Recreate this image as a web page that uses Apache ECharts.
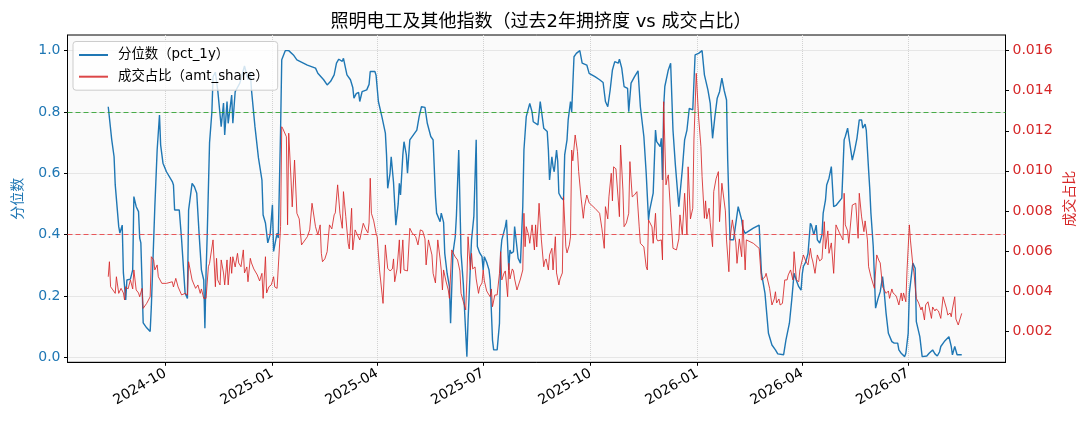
<!DOCTYPE html>
<html>
<head>
<meta charset="utf-8">
<title>照明电工及其他指数</title>
<script src="https://cdn.jsdelivr.net/npm/echarts@6/dist/echarts.min.js"></script>
<style>
    html, body { margin: 0; padding: 0; background: #ffffff; }
    #main { width: 1089px; height: 429px; }
</style>
</head>
<body>
<div id="main"></div>
<script>
// 分位数 (pct_1y)
var pctDates = [
    '2024-08-13', '2024-08-16', '2024-08-18', '2024-08-19', '2024-08-20', '2024-08-22', '2024-08-23', '2024-08-25', '2024-08-26', '2024-08-28', '2024-08-29',
    '2024-09-01', '2024-09-03', '2024-09-04', '2024-09-06', '2024-09-08', '2024-09-09', '2024-09-10', '2024-09-12', '2024-09-15', '2024-09-18', '2024-09-19', '2024-09-22', '2024-09-24', '2024-09-26', '2024-09-27', '2024-09-29',
    '2024-10-02', '2024-10-07', '2024-10-08', '2024-10-09', '2024-10-10', '2024-10-13', '2024-10-15', '2024-10-18', '2024-10-20', '2024-10-21', '2024-10-24', '2024-10-26', '2024-10-28', '2024-10-30',
    '2024-11-01', '2024-11-03', '2024-11-04', '2024-11-05', '2024-11-06', '2024-11-08', '2024-11-10', '2024-11-11', '2024-11-13', '2024-11-15', '2024-11-18', '2024-11-20', '2024-11-21', '2024-11-23', '2024-11-24', '2024-11-27', '2024-11-28', '2024-11-30',
    '2024-12-04', '2024-12-08', '2024-12-11', '2024-12-13', '2024-12-14', '2024-12-17', '2024-12-20', '2024-12-23', '2024-12-24', '2024-12-26', '2024-12-28', '2024-12-30',
    '2025-01-01', '2025-01-02', '2025-01-05', '2025-01-06', '2025-01-08', '2025-01-09', '2025-01-12', '2025-01-15', '2025-01-19', '2025-01-22', '2025-01-31',
    '2025-02-07', '2025-02-09', '2025-02-14', '2025-02-17', '2025-02-20', '2025-02-23', '2025-02-25', '2025-02-27',
    '2025-03-02', '2025-03-03', '2025-03-06', '2025-03-09', '2025-03-11', '2025-03-12', '2025-03-14', '2025-03-16', '2025-03-17', '2025-03-19', '2025-03-23', '2025-03-25', '2025-03-26', '2025-03-30', '2025-03-31',
    '2025-04-02', '2025-04-05', '2025-04-08', '2025-04-09', '2025-04-10', '2025-04-12', '2025-04-13', '2025-04-15', '2025-04-17', '2025-04-19', '2025-04-20', '2025-04-21', '2025-04-23', '2025-04-24', '2025-04-26', '2025-04-27', '2025-04-29',
    '2025-05-05', '2025-05-07', '2025-05-09', '2025-05-12', '2025-05-14', '2025-05-17', '2025-05-19', '2025-05-21', '2025-05-22', '2025-05-23', '2025-05-25', '2025-05-26', '2025-05-27', '2025-05-28', '2025-05-29', '2025-05-31',
    '2025-06-02', '2025-06-03', '2025-06-05', '2025-06-07', '2025-06-08', '2025-06-10', '2025-06-12', '2025-06-14', '2025-06-15', '2025-06-17', '2025-06-18', '2025-06-20', '2025-06-21', '2025-06-23', '2025-06-25', '2025-06-26', '2025-06-28', '2025-06-30',
    '2025-07-01', '2025-07-02', '2025-07-04', '2025-07-06', '2025-07-07', '2025-07-09', '2025-07-10', '2025-07-13', '2025-07-14', '2025-07-15', '2025-07-16', '2025-07-17', '2025-07-20', '2025-07-21', '2025-07-23', '2025-07-24', '2025-07-25', '2025-07-27', '2025-07-28', '2025-07-29', '2025-07-31',
    '2025-08-02', '2025-08-04', '2025-08-05', '2025-08-07', '2025-08-10', '2025-08-12', '2025-08-13', '2025-08-17', '2025-08-19', '2025-08-20', '2025-08-22', '2025-08-25', '2025-08-26', '2025-08-27', '2025-08-29', '2025-08-30', '2025-08-31',
    '2025-09-02', '2025-09-03', '2025-09-04', '2025-09-06', '2025-09-08', '2025-09-09', '2025-09-11', '2025-09-12', '2025-09-14', '2025-09-15', '2025-09-17', '2025-09-19', '2025-09-22', '2025-09-24', '2025-09-28', '2025-09-30',
    '2025-10-05', '2025-10-09', '2025-10-12', '2025-10-14', '2025-10-16', '2025-10-18', '2025-10-20', '2025-10-22', '2025-10-25', '2025-10-26', '2025-10-28', '2025-10-30',
    '2025-11-02', '2025-11-03', '2025-11-05', '2025-11-08', '2025-11-11', '2025-11-13', '2025-11-16', '2025-11-18', '2025-11-20', '2025-11-21', '2025-11-24', '2025-11-26', '2025-11-27', '2025-11-30',
    '2025-12-01', '2025-12-02', '2025-12-03', '2025-12-04', '2025-12-07', '2025-12-09', '2025-12-11', '2025-12-13', '2025-12-16', '2025-12-19', '2025-12-21', '2025-12-23', '2025-12-25', '2025-12-28', '2025-12-30',
    '2026-01-02', '2026-01-05', '2026-01-07', '2026-01-10', '2026-01-12', '2026-01-14', '2026-01-16', '2026-01-18', '2026-01-19', '2026-01-20', '2026-01-22', '2026-01-24', '2026-01-26', '2026-01-27', '2026-01-29',
    '2026-02-01', '2026-02-05', '2026-02-08', '2026-02-09', '2026-02-11', '2026-02-18', '2026-02-23', '2026-02-25', '2026-02-28',
    '2026-03-01', '2026-03-03', '2026-03-06', '2026-03-09', '2026-03-11', '2026-03-16', '2026-03-18', '2026-03-21', '2026-03-23', '2026-03-25', '2026-03-27', '2026-03-29', '2026-03-31',
    '2026-04-01', '2026-04-02', '2026-04-04', '2026-04-06', '2026-04-08', '2026-04-09', '2026-04-11', '2026-04-12', '2026-04-13', '2026-04-14', '2026-04-16', '2026-04-18', '2026-04-19', '2026-04-21', '2026-04-22', '2026-04-24', '2026-04-26', '2026-04-28', '2026-04-30',
    '2026-05-05', '2026-05-07', '2026-05-08', '2026-05-10', '2026-05-11', '2026-05-14', '2026-05-16', '2026-05-18', '2026-05-20', '2026-05-22', '2026-05-23', '2026-05-25', '2026-05-26', '2026-05-28', '2026-05-29', '2026-05-30',
    '2026-06-01', '2026-06-03', '2026-06-05', '2026-06-07', '2026-06-09', '2026-06-10', '2026-06-12', '2026-06-14', '2026-06-17', '2026-06-19', '2026-06-22', '2026-06-23', '2026-06-25', '2026-06-28', '2026-06-29',
    '2026-07-01', '2026-07-02', '2026-07-04', '2026-07-05', '2026-07-07', '2026-07-08', '2026-07-11', '2026-07-13', '2026-07-17', '2026-07-19', '2026-07-22', '2026-07-24', '2026-07-26', '2026-07-28', '2026-07-29',
    '2026-08-01', '2026-08-05', '2026-08-07', '2026-08-08', '2026-08-10', '2026-08-12', '2026-08-14', '2026-08-16'
];
var pctValues = [
    0.817, 0.709, 0.654, 0.562, 0.556, 0.426, 0.405, 0.431, 0.275, 0.187, 0.252,
    0.255, 0.285, 0.524, 0.491, 0.475, 0.389, 0.373, 0.112, 0.096, 0.084, 0.165, 0.491, 0.676, 0.790, 0.692, 0.633,
    0.605, 0.573, 0.562, 0.480, 0.486, 0.480, 0.383, 0.209, 0.192, 0.480, 0.567, 0.556, 0.535, 0.404,
    0.285, 0.252, 0.095, 0.275, 0.400, 0.700, 0.800, 0.915, 0.930, 0.872, 0.752, 0.829, 0.725, 0.834, 0.763, 0.855, 0.763, 0.866,
    0.894, 0.950, 0.905, 0.930, 0.872, 0.752, 0.650, 0.578, 0.464, 0.438, 0.373, 0.400,
    0.497, 0.345, 0.405, 0.389, 0.741, 0.970, 1.000, 1.000, 0.986, 0.970, 0.953,
    0.943, 0.926, 0.905, 0.888, 0.900, 0.921, 0.959, 0.972,
    0.965, 0.975, 0.921, 0.905, 0.880, 0.845, 0.860, 0.864, 0.834, 0.866, 0.872, 0.890, 0.932, 0.932, 0.920,
    0.834, 0.785, 0.731, 0.660, 0.551, 0.600, 0.654, 0.570, 0.431, 0.500, 0.567, 0.529, 0.660, 0.703, 0.660, 0.600, 0.709,
    0.741, 0.785, 0.817, 0.815, 0.763, 0.720, 0.709, 0.524, 0.470, 0.475, 0.442, 0.470, 0.475, 0.440, 0.339, 0.274,
    0.230, 0.111, 0.339, 0.393, 0.460, 0.676, 0.339, 0.236, 0.154, 0.002, 0.120, 0.296, 0.383, 0.460, 0.709, 0.361, 0.340, 0.328,
    0.285, 0.328, 0.310, 0.285, 0.252, 0.056, 0.024, 0.024, 0.030, 0.111, 0.339, 0.383, 0.426, 0.448, 0.285, 0.350, 0.339, 0.344, 0.426, 0.393, 0.323,
    0.307, 0.491, 0.676, 0.785, 0.828, 0.800, 0.768, 0.758, 0.834, 0.834, 0.747, 0.736, 0.676, 0.578, 0.654, 0.622, 0.605,
    0.676, 0.640, 0.535, 0.520, 0.513, 0.660, 0.709, 0.774, 0.834, 0.800, 0.980, 0.991, 1.000, 0.959, 0.953, 0.926,
    0.915, 0.905, 0.896, 0.834, 0.817, 0.870, 0.937, 0.964, 0.959, 0.972, 0.943, 0.883,
    0.877, 0.801, 0.894, 0.915, 0.934, 0.817, 0.720, 0.600, 0.448, 0.480, 0.535, 0.741, 0.703, 0.687,
    0.714, 0.578, 0.817, 0.883, 0.937, 0.959, 0.741, 0.630, 0.491, 0.611, 0.709, 0.741, 0.812, 0.807, 0.986,
    0.991, 1.000, 0.921, 0.872, 0.828, 0.714, 0.785, 0.845, 0.840, 0.866, 0.910, 0.870, 0.839, 0.643, 0.383,
    0.383, 0.491, 0.448, 0.420, 0.404, 0.421, 0.431, 0.274, 0.209,
    0.165, 0.078, 0.040, 0.024, 0.011, 0.008, 0.056, 0.111, 0.187, 0.274, 0.250, 0.230, 0.219,
    0.270, 0.296, 0.310, 0.339, 0.437, 0.430, 0.399, 0.405, 0.431, 0.383, 0.372, 0.400, 0.470, 0.513, 0.562, 0.584, 0.622, 0.491, 0.495,
    0.519, 0.709, 0.720, 0.747, 0.720, 0.643, 0.675, 0.714, 0.774, 0.774, 0.747, 0.760, 0.741, 0.611, 0.550, 0.470,
    0.361, 0.160, 0.190, 0.214, 0.263, 0.230, 0.144, 0.078, 0.051, 0.046, 0.046, 0.024, 0.013, 0.002, 0.013,
    0.078, 0.209, 0.274, 0.307, 0.290, 0.116, 0.067, 0.002, 0.004, 0.013, 0.024, 0.011, 0.004, 0.018, 0.035,
    0.051, 0.067, 0.035, 0.008, 0.035, 0.008, 0.008, 0.008
];

// 成交占比 (amt_share)
var shareDates = [
    '2024-08-13', '2024-08-14', '2024-08-15', '2024-08-17', '2024-08-19', '2024-08-20', '2024-08-22', '2024-08-24', '2024-08-26', '2024-08-27', '2024-08-28', '2024-08-30',
    '2024-09-01', '2024-09-03', '2024-09-04', '2024-09-06', '2024-09-08', '2024-09-09', '2024-09-11', '2024-09-12', '2024-09-15', '2024-09-18', '2024-09-19', '2024-09-21', '2024-09-22', '2024-09-24', '2024-09-25', '2024-09-28',
    '2024-10-02', '2024-10-07', '2024-10-08', '2024-10-10', '2024-10-12', '2024-10-15', '2024-10-18', '2024-10-20', '2024-10-21', '2024-10-24', '2024-10-27', '2024-10-29', '2024-10-31',
    '2024-11-01', '2024-11-03', '2024-11-05', '2024-11-07', '2024-11-08', '2024-11-11', '2024-11-13', '2024-11-14', '2024-11-15', '2024-11-17', '2024-11-18', '2024-11-20', '2024-11-21', '2024-11-23', '2024-11-24', '2024-11-26', '2024-11-27', '2024-11-28', '2024-11-30',
    '2024-12-02', '2024-12-03', '2024-12-05', '2024-12-07', '2024-12-08', '2024-12-10', '2024-12-11', '2024-12-13', '2024-12-14', '2024-12-16', '2024-12-19', '2024-12-21', '2024-12-23', '2024-12-24', '2024-12-26', '2024-12-27', '2024-12-29', '2024-12-31',
    '2025-01-02', '2025-01-03', '2025-01-05', '2025-01-06', '2025-01-08', '2025-01-09', '2025-01-10', '2025-01-13', '2025-01-14', '2025-01-15', '2025-01-17', '2025-01-18', '2025-01-20', '2025-01-22', '2025-01-24', '2025-01-26', '2025-01-31',
    '2025-02-02', '2025-02-04', '2025-02-07', '2025-02-09', '2025-02-11', '2025-02-12', '2025-02-13', '2025-02-15', '2025-02-17', '2025-02-19', '2025-02-21', '2025-02-23', '2025-02-24', '2025-02-26', '2025-02-27', '2025-02-28',
    '2025-03-02', '2025-03-03', '2025-03-05', '2025-03-07', '2025-03-08', '2025-03-10', '2025-03-11', '2025-03-13', '2025-03-15', '2025-03-17', '2025-03-19', '2025-03-20', '2025-03-22', '2025-03-24', '2025-03-25', '2025-03-26', '2025-03-27', '2025-03-29', '2025-03-31',
    '2025-04-01', '2025-04-03', '2025-04-06', '2025-04-08', '2025-04-10', '2025-04-12', '2025-04-14', '2025-04-15', '2025-04-16', '2025-04-18', '2025-04-20', '2025-04-21', '2025-04-23', '2025-04-24', '2025-04-27', '2025-04-29',
    '2025-05-01', '2025-05-04', '2025-05-06', '2025-05-08', '2025-05-10', '2025-05-12', '2025-05-13', '2025-05-15', '2025-05-18', '2025-05-19', '2025-05-21', '2025-05-23', '2025-05-25', '2025-05-26', '2025-05-27', '2025-05-28', '2025-05-30',
    '2025-06-01', '2025-06-02', '2025-06-04', '2025-06-07', '2025-06-09', '2025-06-11', '2025-06-12', '2025-06-14', '2025-06-16', '2025-06-17', '2025-06-18', '2025-06-20', '2025-06-21', '2025-06-22', '2025-06-24', '2025-06-25', '2025-06-27', '2025-06-28', '2025-06-30',
    '2025-07-01', '2025-07-02', '2025-07-04', '2025-07-05', '2025-07-07', '2025-07-08', '2025-07-09', '2025-07-11', '2025-07-13', '2025-07-15', '2025-07-16', '2025-07-17', '2025-07-19', '2025-07-20', '2025-07-22', '2025-07-23', '2025-07-24', '2025-07-26', '2025-07-27', '2025-07-28', '2025-07-30',
    '2025-08-02', '2025-08-04', '2025-08-05', '2025-08-06', '2025-08-07', '2025-08-09', '2025-08-10', '2025-08-12', '2025-08-14', '2025-08-15', '2025-08-16', '2025-08-18', '2025-08-20', '2025-08-22', '2025-08-23', '2025-08-24', '2025-08-26', '2025-08-27', '2025-08-29', '2025-08-30',
    '2025-09-01', '2025-09-02', '2025-09-04', '2025-09-05', '2025-09-07', '2025-09-08', '2025-09-10', '2025-09-11', '2025-09-13', '2025-09-14', '2025-09-15', '2025-09-16', '2025-09-18', '2025-09-20', '2025-09-21', '2025-09-23', '2025-09-25', '2025-09-26', '2025-09-28', '2025-09-30',
    '2025-10-05', '2025-10-09', '2025-10-11', '2025-10-13', '2025-10-14', '2025-10-16', '2025-10-17', '2025-10-19', '2025-10-20', '2025-10-21', '2025-10-23', '2025-10-25', '2025-10-26', '2025-10-27', '2025-10-29', '2025-10-30',
    '2025-11-01', '2025-11-03', '2025-11-04', '2025-11-06', '2025-11-08', '2025-11-10', '2025-11-12', '2025-11-13', '2025-11-16', '2025-11-18', '2025-11-19', '2025-11-20', '2025-11-23', '2025-11-24', '2025-11-26', '2025-11-27', '2025-11-28',
    '2025-12-01', '2025-12-02', '2025-12-03', '2025-12-05', '2025-12-06', '2025-12-07', '2025-12-09', '2025-12-11', '2025-12-14', '2025-12-16', '2025-12-17', '2025-12-19', '2025-12-21', '2025-12-23', '2025-12-24', '2025-12-26', '2025-12-28', '2025-12-29', '2025-12-31',
    '2026-01-02', '2026-01-04', '2026-01-05', '2026-01-07', '2026-01-08', '2026-01-09', '2026-01-11', '2026-01-12', '2026-01-14', '2026-01-15', '2026-01-17', '2026-01-19', '2026-01-20', '2026-01-22', '2026-01-25', '2026-01-26', '2026-01-28', '2026-01-29', '2026-01-31',
    '2026-02-03', '2026-02-04', '2026-02-06', '2026-02-08', '2026-02-09', '2026-02-11', '2026-02-12', '2026-02-18', '2026-02-23', '2026-02-25', '2026-02-28',
    '2026-03-01', '2026-03-04', '2026-03-06', '2026-03-08', '2026-03-09', '2026-03-10', '2026-03-12', '2026-03-13', '2026-03-15', '2026-03-17', '2026-03-19', '2026-03-20', '2026-03-22', '2026-03-24', '2026-03-25', '2026-03-27', '2026-03-29', '2026-03-30', '2026-03-31',
    '2026-04-02', '2026-04-04', '2026-04-06', '2026-04-08', '2026-04-09', '2026-04-10', '2026-04-12', '2026-04-14', '2026-04-16', '2026-04-18', '2026-04-20', '2026-04-21', '2026-04-23', '2026-04-24', '2026-04-26', '2026-04-28', '2026-04-30',
    '2026-05-03', '2026-05-06', '2026-05-07', '2026-05-08', '2026-05-10', '2026-05-11', '2026-05-12', '2026-05-14', '2026-05-17', '2026-05-19', '2026-05-20', '2026-05-22', '2026-05-24', '2026-05-25', '2026-05-27', '2026-05-28', '2026-05-30',
    '2026-06-02', '2026-06-04', '2026-06-06', '2026-06-07', '2026-06-09', '2026-06-10', '2026-06-12', '2026-06-14', '2026-06-15', '2026-06-17', '2026-06-18', '2026-06-20', '2026-06-21', '2026-06-23', '2026-06-25', '2026-06-26', '2026-06-27', '2026-06-29', '2026-06-30',
    '2026-07-02', '2026-07-03', '2026-07-05', '2026-07-06', '2026-07-08', '2026-07-10', '2026-07-12', '2026-07-13', '2026-07-15', '2026-07-16', '2026-07-18', '2026-07-19', '2026-07-21', '2026-07-22', '2026-07-24', '2026-07-25', '2026-07-27', '2026-07-29', '2026-07-31',
    '2026-08-01', '2026-08-03', '2026-08-04', '2026-08-06', '2026-08-07', '2026-08-08', '2026-08-10', '2026-08-11', '2026-08-13', '2026-08-14', '2026-08-16'
];
var shareValues = [
    0.00471, 0.00546, 0.00421, 0.00405, 0.00388, 0.00471, 0.00388, 0.00413, 0.00390, 0.00355, 0.00421, 0.00410,
    0.00455, 0.00410, 0.00505, 0.00405, 0.00390, 0.00371, 0.00413, 0.00313, 0.00338, 0.00371, 0.00571, 0.00555, 0.00505, 0.00530, 0.00471, 0.00438,
    0.00438, 0.00446, 0.00420, 0.00463, 0.00420, 0.00380, 0.00388, 0.00380, 0.00546, 0.00455, 0.00413, 0.00430, 0.00388,
    0.00410, 0.00363, 0.00363, 0.00521, 0.00538, 0.00655, 0.00421, 0.00563, 0.00455, 0.00430, 0.00555, 0.00490, 0.00430, 0.00555, 0.00430, 0.00570, 0.00488, 0.00571, 0.00520,
    0.00588, 0.00540, 0.00521, 0.00605, 0.00490, 0.00520, 0.00446, 0.00563, 0.00540, 0.00510, 0.00480, 0.00450, 0.00488, 0.00363, 0.00571, 0.00390, 0.00421, 0.00430,
    0.00471, 0.00420, 0.00413, 0.00420, 0.00721, 0.01220, 0.01210, 0.01170, 0.00730, 0.01188, 0.00954, 0.00820, 0.01054, 0.00788, 0.00760, 0.00630, 0.00671,
    0.00705, 0.00838, 0.00721, 0.00680, 0.00730, 0.00588, 0.00546, 0.00560, 0.00596, 0.00730, 0.00710, 0.00780, 0.00790, 0.00930, 0.00930, 0.00788,
    0.00713, 0.00896, 0.00771, 0.00638, 0.00610, 0.00813, 0.00605, 0.00705, 0.00680, 0.00655, 0.00710, 0.00738, 0.00710, 0.00690, 0.00740, 0.00963, 0.00788, 0.00750, 0.00688,
    0.00670, 0.00505, 0.00338, 0.00630, 0.00513, 0.00500, 0.00510, 0.00560, 0.00446, 0.00510, 0.00655, 0.00488, 0.00655, 0.00505, 0.00500, 0.00713,
    0.00690, 0.00671, 0.00630, 0.00705, 0.00700, 0.00660, 0.00530, 0.00655, 0.00580, 0.00488, 0.00440, 0.00655, 0.00560, 0.00505, 0.00405, 0.00505, 0.00450,
    0.00405, 0.00363, 0.00605, 0.00570, 0.00555, 0.00500, 0.00388, 0.00346, 0.00305, 0.00455, 0.00671, 0.00505, 0.00588, 0.00510, 0.00520, 0.00460, 0.00388, 0.00420, 0.00440,
    0.00505, 0.00450, 0.00400, 0.00390, 0.00371, 0.00410, 0.00321, 0.00380, 0.00380, 0.00488, 0.00596, 0.00455, 0.00490, 0.00500, 0.00371, 0.00538, 0.00460, 0.00510, 0.00500, 0.00460, 0.00405,
    0.00460, 0.00505, 0.00788, 0.00621, 0.00721, 0.00680, 0.00638, 0.00730, 0.00605, 0.00730, 0.00620, 0.00838, 0.00655, 0.00521, 0.00550, 0.00560, 0.00505, 0.00580, 0.00613, 0.00505,
    0.00671, 0.00490, 0.00430, 0.00460, 0.00490, 0.00871, 0.00621, 0.00590, 0.00630, 0.00670, 0.01104, 0.01050, 0.01179, 0.01096, 0.00996, 0.00870, 0.00763, 0.00820, 0.00879, 0.00840,
    0.00813, 0.00788, 0.00710, 0.00613, 0.00821, 0.00760, 0.00870, 0.00988, 0.00850, 0.01020, 0.01010, 0.00854, 0.00771, 0.01129, 0.00904, 0.00721,
    0.00740, 0.00788, 0.01046, 0.00870, 0.00880, 0.00896, 0.00720, 0.00638, 0.00620, 0.00521, 0.00505, 0.00755, 0.00720, 0.00638, 0.00788, 0.00660, 0.00650,
    0.00655, 0.00555, 0.01345, 0.00930, 0.00960, 0.00980, 0.00790, 0.00613, 0.00605, 0.00660, 0.00780, 0.00680, 0.00888, 0.00680, 0.01020, 0.00760, 0.00813, 0.01154, 0.01487,
    0.01270, 0.01121, 0.00971, 0.00763, 0.00850, 0.00760, 0.00813, 0.00740, 0.00621, 0.00896, 0.00960, 0.00996, 0.00746, 0.00938, 0.00800, 0.00655, 0.00496, 0.00660, 0.00755,
    0.00640, 0.00538, 0.00660, 0.00571, 0.00755, 0.00505, 0.00655, 0.00638, 0.00613, 0.00455, 0.00470,
    0.00488, 0.00413, 0.00330, 0.00360, 0.00396, 0.00340, 0.00360, 0.00330, 0.00338, 0.00455, 0.00455, 0.00480, 0.00505, 0.00455, 0.00596, 0.00455, 0.00446, 0.00505, 0.00505,
    0.00580, 0.00550, 0.00530, 0.00613, 0.00570, 0.00550, 0.00488, 0.00580, 0.00550, 0.00560, 0.00746, 0.00610, 0.00700, 0.00588, 0.00640, 0.00488, 0.00730,
    0.00690, 0.00655, 0.00888, 0.00730, 0.00700, 0.00638, 0.00630, 0.00829, 0.00838, 0.00663, 0.00888, 0.00770, 0.00696, 0.00750, 0.00655, 0.00521, 0.00471,
    0.00413, 0.00580, 0.00550, 0.00540, 0.00421, 0.00430, 0.00388, 0.00400, 0.00363, 0.00410, 0.00390, 0.00380, 0.00370, 0.00330, 0.00390, 0.00350, 0.00390, 0.00346, 0.00500,
    0.00730, 0.00650, 0.00530, 0.00490, 0.00363, 0.00340, 0.00305, 0.00320, 0.00255, 0.00330, 0.00346, 0.00350, 0.00263, 0.00320, 0.00300, 0.00310, 0.00300, 0.00263, 0.00371,
    0.00370, 0.00310, 0.00280, 0.00290, 0.00271, 0.00310, 0.00371, 0.00260, 0.00230, 0.00250, 0.00288
];

var tickDates = ['2024-10-01', '2025-01-01', '2025-04-01', '2025-07-01', '2025-10-01', '2026-01-01', '2026-04-01', '2026-07-01'];
var pctTicks = [0, 0.2, 0.4, 0.6, 0.8, 1.0];
var shareTicks = [0.002, 0.004, 0.006, 0.008, 0.010, 0.012, 0.014, 0.016];
var highLine = 0.8;
var lowLine = 0.4;

var FONT = "'DejaVu Sans', 'Noto Sans CJK SC', sans-serif";

function toTime(s) {
    return +echarts.time.parse(s);
}

function pad2(n) {
    return n < 10 ? '0' + n : '' + n;
}

var tickTimes = tickDates.map(toTime);

var chart = echarts.init(document.getElementById('main'), null, { renderer: 'canvas' });

var option = {
    animation: false,
    backgroundColor: '#ffffff',
    textStyle: { fontFamily: FONT },
    title: {
        text: '照明电工及其他指数（过去2年拥挤度 vs 成交占比）',
        left: 536,
        top: 8,
        textAlign: 'center',
        textStyle: { fontFamily: FONT, fontSize: 18, fontWeight: 'normal', color: '#000' }
    },
    legend: {
        orient: 'vertical',
        left: 73,
        top: 41.5,
        itemWidth: 29,
        itemHeight: 14,
        itemGap: 6.7,
        padding: [6, 9, 6, 5],
        backgroundColor: 'rgba(255,255,255,0.8)',
        borderColor: '#cccccc',
        borderWidth: 1,
        borderRadius: 3,
        // hide the marker dot, keep the line
        itemStyle: { opacity: 0 },
        textStyle: { fontFamily: FONT, fontSize: 13.4, lineHeight: 15, color: '#000', padding: [0, 0, 0, 5] },
        data: ['分位数（pct_1y）', '成交占比（amt_share）']
    },
    grid: {
        left: 67.5,
        right: 83.5,
        top: 35,
        bottom: 66.7,
        show: true,
        backgroundColor: '#fafafa',
        borderColor: '#000',
        borderWidth: 1
    },
    xAxis: {
        type: 'value',
        min: toTime('2024-07-09'),
        max: toTime('2026-09-22 14:00'),
        axisLine: { show: true, onZero: false, lineStyle: { color: '#000', width: 1 } },
        axisTick: { show: true, length: 3.5, customValues: tickTimes, lineStyle: { color: '#000' } },
        axisLabel: {
            customValues: tickTimes,
            rotate: 30,
            margin: 10,
            fontSize: 14,
            color: '#000',
            fontFamily: FONT,
            formatter: function (v) {
                var d = new Date(v);
                return d.getFullYear() + '-' + pad2(d.getMonth() + 1);
            }
        },
        splitLine: { show: true, lineStyle: { type: 'dotted', color: '#d2d2d2', width: 1 } }
    },
    yAxis: [{
        type: 'value',
        position: 'left',
        min: -0.0165,
        max: 1.051,
        name: '分位数',
        nameLocation: 'middle',
        nameGap: 42,
        nameRotate: 90,
        nameTextStyle: { color: '#1f77b4', fontSize: 14, fontFamily: FONT },
        axisLine: { show: true, onZero: false, lineStyle: { color: '#000', width: 1 } },
        axisTick: { show: true, length: 3.5, customValues: pctTicks, lineStyle: { color: '#000' } },
        axisLabel: {
            customValues: pctTicks,
            margin: 7,
            fontSize: 14,
            color: '#1f77b4',
            fontFamily: FONT,
            formatter: function (v) { return v.toFixed(1); }
        },
        splitLine: { show: true, lineStyle: { type: 'dotted', color: '#d2d2d2', width: 1 } }
    }, {
        type: 'value',
        position: 'right',
        min: 0.000437,
        max: 0.016784,
        name: '成交占比',
        nameLocation: 'middle',
        nameGap: 57,
        nameRotate: 90,
        nameTextStyle: { color: '#d62728', fontSize: 14, fontFamily: FONT },
        axisLine: { show: true, onZero: false, lineStyle: { color: '#000', width: 1 } },
        axisTick: { show: true, length: 3.5, customValues: shareTicks, lineStyle: { color: '#000' } },
        axisLabel: {
            customValues: shareTicks,
            margin: 7,
            fontSize: 14,
            color: '#d62728',
            fontFamily: FONT,
            formatter: function (v) { return v.toFixed(3); }
        },
        splitLine: { show: false }
    }],
    series: [{
        name: '分位数（pct_1y）',
        type: 'line',
        yAxisIndex: 0,
        symbol: 'none',
        z: 3,
        data: pctDates.map(function (d, i) { return [toTime(d), pctValues[i]]; }),
        lineStyle: { color: '#1f77b4', width: 1.4 },
        itemStyle: { color: '#1f77b4' },
        markLine: {
            silent: true,
            symbol: 'none',
            label: { show: false },
            data: [
                { yAxis: highLine, lineStyle: { color: '#2ca02c', type: [5, 3], width: 1, opacity: 0.85 } },
                { yAxis: lowLine, lineStyle: { color: '#e8474a', type: [5, 3], width: 1, opacity: 0.9 } }
            ]
        }
    }, {
        name: '成交占比（amt_share）',
        type: 'line',
        yAxisIndex: 1,
        symbol: 'none',
        z: 4,
        data: shareDates.map(function (d, i) { return [toTime(d), shareValues[i]]; }),
        lineStyle: { color: '#d62728', width: 1, opacity: 0.85 },
        itemStyle: { color: '#d62728' }
    }]
};

chart.setOption(option);
</script>
</body>
</html>
